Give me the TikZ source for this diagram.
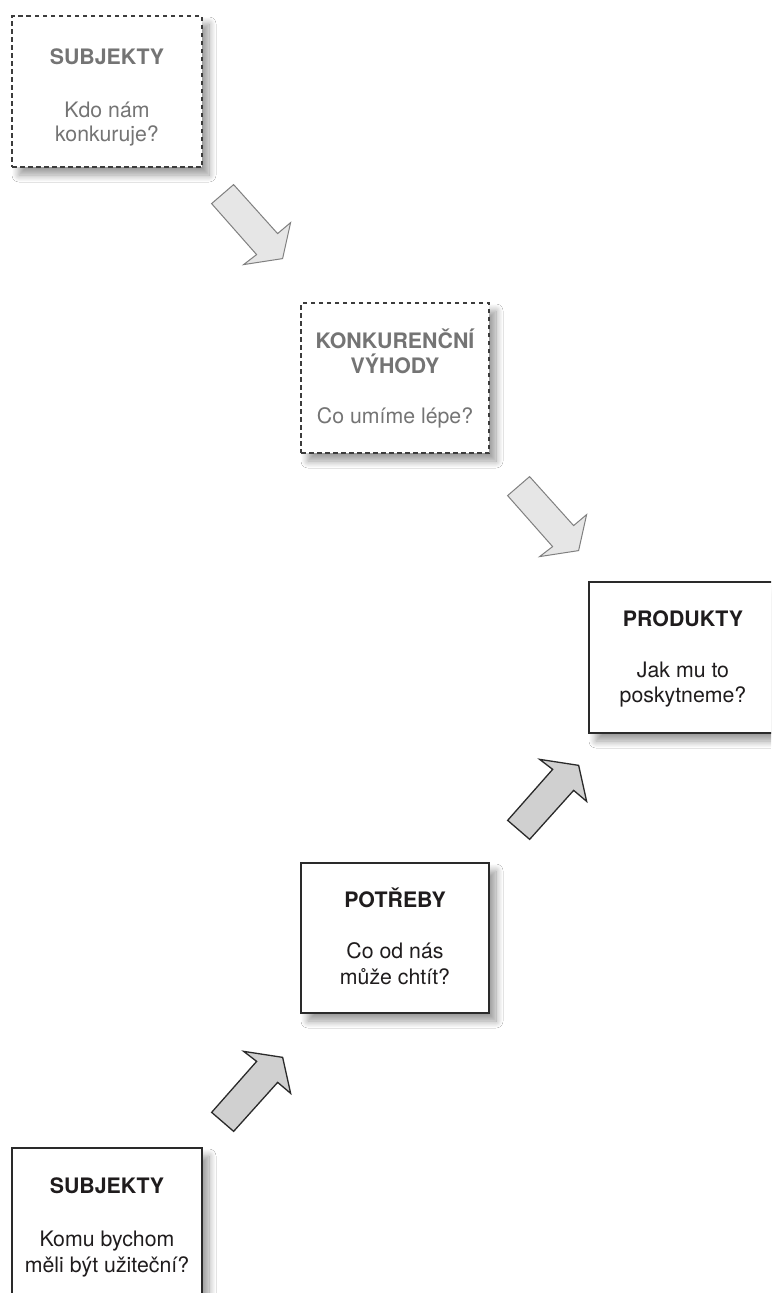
\documentclass[tikz,border=0pt]{standalone}
\usepackage{fontspec}
\setmainfont{TeX Gyre Heros}
\usetikzlibrary{calc,shadows.blur}
\definecolor{dashline}{HTML}{3C3C3C}
\definecolor{softtext}{HTML}{747474}
\definecolor{darktext}{HTML}{1F1C1D}
\definecolor{lightfill}{HTML}{E6E6E6}
\definecolor{lightedge}{HTML}{808080}
\definecolor{darkfill}{HTML}{D0D0D0}
\definecolor{darkedge}{HTML}{2A2A2A}
\tikzset{
  boxshadow/.style={blur shadow={shadow xshift=7pt, shadow yshift=-8pt, shadow blur radius=7pt, shadow blur steps=12, shadow opacity=40}},
  dbox/.style={draw=dashline, line width=1.2pt, dash pattern=on 4.5pt off 3.5pt, fill=white, minimum width=190pt, minimum height=151pt, inner sep=0pt, boxshadow},
  sbox/.style={draw=darkedge, line width=1.3pt, fill=white, minimum width=190pt, minimum height=151pt, inner sep=0pt, boxshadow},
  ttl/.style={font=\fontsize{21.3}{25}\selectfont\bfseries, inner sep=0pt, anchor=base},
  txt/.style={font=\fontsize{21.3}{25}\selectfont, inner sep=0pt, anchor=base},
  blockarrow/.pic={\draw[pic actions, line join=miter] (0,0) -- (-22,19) -- (23,70) -- (10,80) -- (49,74) -- (57,38) -- (44,49) -- cycle;},
  lightarrow/.style={draw=lightedge, fill=lightfill, line width=1pt},
  darkarrow/.style={draw=darkedge, fill=darkfill, line width=1.3pt}
}
\begin{document}
\begin{tikzpicture}[x=1pt,y=-1pt]
\useasboundingbox (0,0) rectangle (771,1293);
\clip (0,0) rectangle (771,1293);
\fill[white] (0,0) rectangle (771,1293);

% boxes
\node[dbox] (b1) at (107,91.5) {};
\node[dbox, minimum width=188pt, minimum height=150pt] (b2) at (395,378) {};
\node[sbox] (b3) at (684,657.5) {};
\node[sbox, minimum width=188pt, minimum height=150pt] (b4) at (395,938) {};
\node[sbox] (b5) at (107,1223.5) {};

% texts box 1
\node[ttl, text=softtext] (t1a) at (107,64) {SUBJEKTY};
\node[txt, text=softtext] (t1b) at (107,117) {Kdo nám};
\node[txt, text=softtext] (t1c) at (107,141) {konkuruje?};
% box 2
\node[ttl, text=softtext] (t2a) at (395,348) {KONKURENČNÍ};
\node[ttl, text=softtext] (t2b) at (395,373.5) {VÝHODY};
\node[txt, text=softtext] (t2c) at (395,423) {Co umíme lépe?};
% box 3
\node[ttl, text=darktext] (t3a) at (683,626) {PRODUKTY};
\node[txt, text=darktext] (t3b) at (683,677) {Jak mu to};
\node[txt, text=darktext] (t3c) at (683,702) {poskytneme?};
% box 4
\node[ttl, text=darktext] (t4a) at (395,907) {POTŘEBY};
\node[txt, text=darktext] (t4b) at (395,958) {Co od nás};
\node[txt, text=darktext] (t4c) at (395,984) {může chtít?};
% box 5
\node[ttl, text=darktext] (t5a) at (107,1193.5) {SUBJEKTY};
\node[txt, text=darktext] (t5b) at (107,1246) {Komu bychom};
\node[txt, text=darktext] (t5c) at (107,1272) {měli být užiteční?};

% block arrows
\coordinate (a1) at ($(b1.south east)+(31,17)$);
\coordinate (a2) at ($(b2.south east)+(40,23)$);
\coordinate (a3) at ($(b4.north east)+(40,-23)$);
\coordinate (a4) at ($(b5.north east)+(31,-16)$);
\pic[lightarrow] at (a1) {blockarrow};
\pic[lightarrow] at (a2) {blockarrow};
\pic[darkarrow, yscale=-1] at (a3) {blockarrow};
\pic[darkarrow, yscale=-1] at (a4) {blockarrow};
\end{tikzpicture}
\end{document}
